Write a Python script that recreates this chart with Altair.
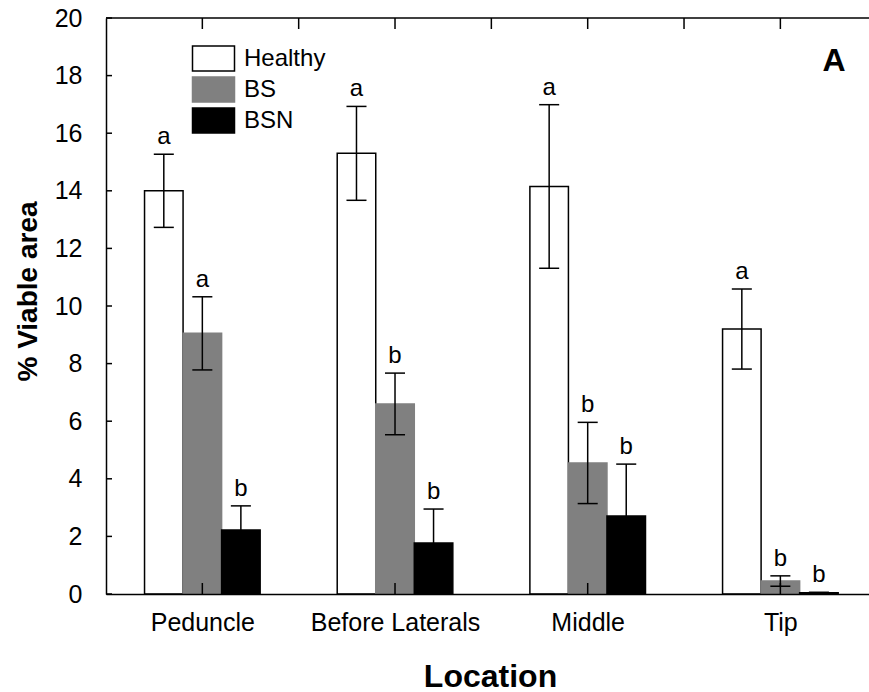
import json

import altair as alt
import pandas as pd

# ---- data -----------------------------------------------------------------
locations = ["Peduncle", "Before Laterals", "Middle", "Tip"]
groups = ["Healthy", "BS", "BSN"]

healthy_mean = [14.0, 15.3, 14.15, 9.2]
bs_mean = [9.05, 6.6, 4.55, 0.45]
bsn_mean = [2.22, 1.77, 2.71, 0.04]

healthy_se = [1.27, 1.63, 2.84, 1.39]
bs_se = [1.27, 1.07, 1.41, 0.18]
bsn_se = [0.84, 1.18, 1.80, 0.02]

healthy_letters = ["a", "a", "a", "a"]
bs_letters = ["a", "b", "b", "b"]
bsn_letters = ["b", "b", "b", "b"]

y_tick_values = list(range(0, 21, 2))
top_tick_values = [0, 0.5, 1, 1.5, 2, 2.5, 3, 3.5]

# ---- styling --------------------------------------------------------------
FONT = "Liberation Sans"
W, H = 763, 576
fill_colors = ["white", "#808080", "black"]
stroke_colors = ["black", "#808080", "black"]
group_offsets = [-0.2, 0.0, 0.2]
BAR_HALF = 0.1
CAP_HALF = 0.052
LINE_W = 1.5

means = [healthy_mean, bs_mean, bsn_mean]
ses = [healthy_se, bs_se, bsn_se]
letters = [healthy_letters, bs_letters, bsn_letters]

rows = []
for g, name in enumerate(groups):
    for i, loc in enumerate(locations):
        pos = i + group_offsets[g]
        m, s = means[g][i], ses[g][i]
        rows.append(
            dict(
                location=loc,
                group=name,
                mean=m,
                lo=max(m - s, 0),
                hi=m + s,
                pos=pos,
                left=pos - BAR_HALF,
                right=pos + BAR_HALF,
                cap_l=pos - CAP_HALF,
                cap_r=pos + CAP_HALF,
                letter=letters[g][i],
            )
        )
df = pd.DataFrame(rows)

x_scale = alt.Scale(domain=[-0.5, 3.46], nice=False, zero=False)
y_scale = alt.Scale(domain=[0, 20], nice=False)

label_expr = json.dumps(locations) + "[datum.value]"

x_axis = alt.Axis(
    orient="bottom",
    values=[0, 1, 2, 3],
    labelExpr=label_expr,
    ticks=False,
    grid=False,
    domainColor="black",
    domainWidth=LINE_W,
    labelFontSize=25,
    labelPadding=16,
    labelColor="black",
    labelFlush=False,
    labelOverlap=False,
    title="Location",
    titleFontSize=32,
    titleFontWeight="bold",
    titleColor="black",
    titleX=384,
    titleY=92,
    titleAlign="center",
    titleBaseline="alphabetic",
    zindex=1,
)

y_axis = alt.Axis(
    values=y_tick_values,
    ticks=False,
    grid=False,
    domainColor="black",
    domainWidth=LINE_W,
    labelFontSize=25,
    labelPadding=24,
    labelColor="black",
    title="% Viable area",
    titleFontSize=28,
    titleFontWeight="bold",
    titleColor="black",
    titleAngle=270,
    titleX=-78,
    titleY=273,
    titleAlign="center",
    titleBaseline="middle",
    zindex=1,
)

legend = alt.Legend(
    orient="none",
    legendX=94,
    legendY=27,
    title=None,
    symbolType="M-1.68,-1H1.68V1H-1.68Z",
    symbolSize=625,
    symbolStrokeWidth=LINE_W,
    symbolOpacity=1,
    labelFontSize=24,
    labelColor="black",
    labelOffset=17,
    rowPadding=0,
    padding=0,
)


def X(field, **kw):
    return alt.X(field, type="quantitative", scale=x_scale, axis=x_axis, title="Location", **kw)


def Y(field, **kw):
    return alt.Y(field, type="quantitative", scale=y_scale, axis=y_axis, title="% Viable area", **kw)


base = alt.Chart(df)

bars = base.mark_bar(strokeWidth=LINE_W).encode(
    x=X("left"),
    x2="right",
    y=Y("mean"),
    y2=alt.datum(0),
    fill=alt.Fill("group:N", scale=alt.Scale(domain=groups, range=fill_colors), legend=legend),
    stroke=alt.Stroke("group:N", scale=alt.Scale(domain=groups, range=stroke_colors), legend=legend),
)

whiskers = base.mark_rule(color="black", strokeWidth=LINE_W).encode(
    x=X("pos"), y=Y("lo"), y2="hi"
)
caps_top = base.mark_rule(color="black", strokeWidth=LINE_W).encode(
    x=X("cap_l"), x2="cap_r", y=Y("hi")
)
caps_bottom = base.mark_rule(color="black", strokeWidth=LINE_W).encode(
    x=X("cap_l"), x2="cap_r", y=Y("lo")
)

sig_letters = base.mark_text(
    fontSize=24, color="black", align="center", baseline="alphabetic", dy=-10
).encode(x=X("pos"), y=Y("hi"), text="letter:N")

# frame line along the top of the plot
top_line = alt.Chart(pd.DataFrame({"v": [20]})).mark_rule(
    color="black", strokeWidth=LINE_W
).encode(y=Y("v"))

# inward-pointing tick marks
y_ticks = alt.Chart(pd.DataFrame({"v": y_tick_values})).mark_rule(
    color="black", strokeWidth=LINE_W
).encode(y=Y("v"), x=alt.value(0), x2=alt.value(6))

top_ticks = alt.Chart(pd.DataFrame({"v": top_tick_values})).mark_rule(
    color="black", strokeWidth=LINE_W
).encode(x=X("v"), y=alt.value(0), y2=alt.value(11))

bottom_ticks = alt.Chart(pd.DataFrame({"v": [0, 1, 2, 3]})).mark_rule(
    color="black", strokeWidth=LINE_W
).encode(x=X("v"), y=alt.value(H), y2=alt.value(H - 11))

panel = alt.Chart(pd.DataFrame({"t": ["A"]})).mark_text(
    fontSize=32, fontWeight="bold", color="black", align="center", baseline="alphabetic"
).encode(x=alt.value(728), y=alt.value(53), text="t:N")

chart = (
    alt.layer(
        bars, whiskers, caps_top, caps_bottom, sig_letters,
        top_line, y_ticks, top_ticks, bottom_ticks, panel,
    )
    .properties(
        width=W,
        height=H,
        autosize=alt.AutoSizeParams(type="none"),
        padding={"left": 106, "top": 18, "right": 0, "bottom": 98},
        background="white",
    )
    .configure(font=FONT)
    .configure_view(strokeWidth=0)
)

chart.save("out.html", embed_options={"renderer": "svg", "actions": False})
